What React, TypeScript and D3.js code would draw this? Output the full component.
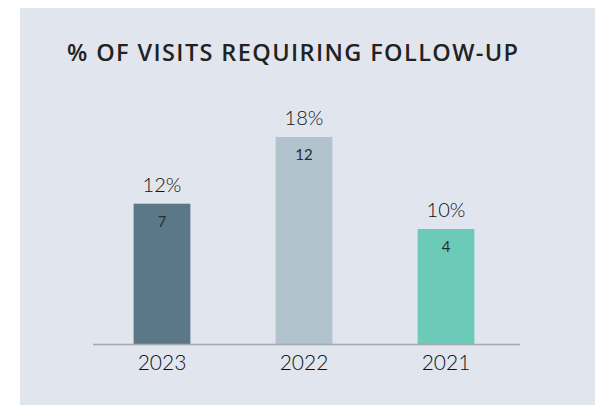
import React from "react";
import * as d3 from "d3";

const categories = ["2023", "2022", "2021"];
const percentValues = [12.2, 18, 10];
const countValues = [7, 12, 4];
const barColors = ["#5b7889", "#b1c3cc", "#6ccab9"];
const titleText = "% OF VISITS REQUIRING FOLLOW-UP";

const W = 595;
const H = 405;

export default function App() {
  const x = d3
    .scaleBand<string>()
    .domain(categories)
    .range([91, 517])
    .paddingInner(0.6)
    .paddingOuter(0.3);
  const y = d3.scaleLinear().domain([0, 18]).range([344, 137]);
  const fmt = d3.format(".0f");
  const font = "Lato, 'Noto Sans', sans-serif";

  return (
    <svg
      width={W}
      height={H}
      style={{ position: "absolute", left: 0, top: 0, display: "block" }}
    >
      <rect x={0} y={0} width={W} height={H} fill="#ffffff" />
      <rect x={20} y={8} width={W - 20} height={H - 8} fill="#e1e6ee" />
      <text
        x={67}
        y={61}
        fontFamily="'Open Sans', sans-serif"
        fontWeight={600}
        fontSize={23.5}
        fill="#222222"
        textLength={451}
        lengthAdjust="spacing"
      >
        {titleText}
      </text>
      {categories.map((c, i) => {
        const bx = x(c)!;
        const bw = x.bandwidth();
        const top = y(percentValues[i]);
        const cx = bx + bw / 2;
        return (
          <g key={c}>
            <rect x={bx} y={top} width={bw} height={y(0) - top} fill={barColors[i]} />
            <text
              x={cx}
              y={top - 12}
              textAnchor="middle"
              fontFamily={font}
              fontWeight={300}
              fontSize={20}
              fill="#111111"
            >
              {fmt(percentValues[i])}%
            </text>
            <text
              x={cx}
              y={top + 23}
              textAnchor="middle"
              fontFamily={font}
              fontWeight={400}
              fontSize={15}
              fill="#2b2b2b"
            >
              {countValues[i]}
            </text>
            <text
              x={cx}
              y={370}
              textAnchor="middle"
              fontFamily={font}
              fontWeight={300}
              fontSize={21}
              fill="#111111"
            >
              {c}
            </text>
          </g>
        );
      })}
      <line x1={93} x2={520} y1={y(0) + 0.5} y2={y(0) + 0.5} stroke="#a3a6aa" strokeWidth={1.6} />
    </svg>
  );
}
